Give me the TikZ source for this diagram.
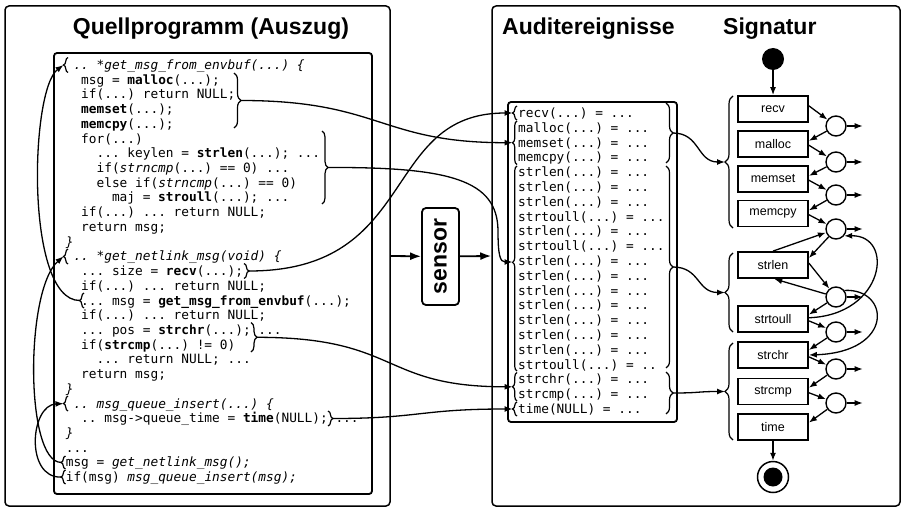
\documentclass[tikz,border=0pt]{standalone}
\usepackage{fontspec}
\setmainfont{Liberation Sans}
\setmonofont{DejaVu Sans Mono}
\usetikzlibrary{decorations.pathreplacing,arrows.meta}
\newcommand\cln[4]{\node[code] (#1) at (#2,{69.5+(#3-1)*14.72}) {#4};}
\newcommand\aln[3]{\node[code] (#1) at (518,{117.5+(#2-1)*14.8}) {#3};}
\begin{document}
\begin{tikzpicture}[x=1pt,y=-1pt,
  panel/.style={draw, line width=1.5pt, rounded corners=4pt, inner sep=0pt},
  innerbox/.style={draw, line width=1.8pt, rounded corners=3pt, inner sep=0pt},
  code/.style={anchor=base west, inner sep=0pt, font=\fontsize{12.8}{15}\ttfamily},
  title/.style={inner sep=0pt, font=\fontsize{23}{27}\bfseries},
  sigbox/.style={draw, line width=1.8pt, minimum width=70pt, minimum height=26pt, inner sep=0pt, font=\fontsize{12.5}{15}\selectfont},
  trans/.style={draw, circle, line width=1.4pt, minimum size=20pt, inner sep=0pt},
  conn/.style={line width=1.3pt, -{Latex[length=8pt,width=6pt]}},
  bigarrow/.style={line width=1.8pt, -{Latex[length=11pt,width=8pt]}},
  brc/.style={decorate, decoration={brace, amplitude=#1}, line width=1.2pt},
]
\useasboundingbox (0,0) rectangle (904,511);

% panels
\node[panel, minimum width=385pt, minimum height=500pt] (lp) at (197.5,256) {};
\node[panel, minimum width=408pt, minimum height=500pt] (rp) at (696,256) {};
\node[title, anchor=base] (t1) at (211,35) {Quellprogramm (Auszug)};
\node[title, anchor=base west] (t2) at (502,35) {Auditereignisse};
\node[title, anchor=base west] (t3) at (723,35) {Signatur};

\node[innerbox, minimum width=318pt, minimum height=441pt] (cb) at (213,273.5) {};
\node[innerbox, minimum width=169pt, minimum height=320pt] (ab) at (592.5,262) {};

% sensor
\node[draw, line width=1.8pt, rounded corners=4pt, rotate=90, minimum width=97pt, minimum height=37pt, inner sep=0pt, font=\fontsize{23}{27}\bfseries] (sensor) at (440.5,256.5) {sensor};
\draw[bigarrow] (lp.east) -- (sensor);
\draw[bigarrow] (sensor) -- (rp.west);

% code lines
\cln{l1}{73.3}{1}{\textit{.. *get\_msg\_from\_envbuf(...) \{}}
\cln{l2}{81}{2}{msg = \textbf{malloc}(...);}
\cln{l3}{81}{3}{if(...) return NULL;}
\cln{l4}{81}{4}{\textbf{memset}(...);}
\cln{l5}{81}{5}{\textbf{memcpy}(...);}
\cln{l6}{81}{6}{for(...)}
\cln{l7}{96.4}{7}{... keylen = \textbf{strlen}(...); ...}
\cln{l8}{96.4}{8}{if(\textit{strncmp}(...) == 0) ...}
\cln{l9}{96.4}{9}{else if(\textit{strncmp}(...) == 0)}
\cln{l10}{111.8}{10}{maj = \textbf{stroull}(...); ...}
\cln{l11}{81}{11}{if(...) ... return NULL;}
\cln{l12}{81}{12}{return msg;}
\cln{l13}{65.6}{13}{\textit{\}}}
\cln{l14}{73.3}{14}{\textit{.. *get\_netlink\_msg(void) \{}}
\cln{l15}{81}{15}{... size = \textbf{recv}(...);}
\cln{l16}{81}{16}{if(...) ... return NULL;}
\cln{l17}{81}{17}{... msg = \textbf{get\_msg\_from\_envbuf}(...);}
\cln{l18}{81}{18}{if(...) ... return NULL;}
\cln{l19}{81}{19}{... pos = \textbf{strchr}(...); ...}
\cln{l20}{81}{20}{if(\textbf{strcmp}(...) != 0)}
\cln{l21}{96.4}{21}{... return NULL; ...}
\cln{l22}{81}{22}{return msg;}
\cln{l23}{65.6}{23}{\textit{\}}}
\cln{l24}{73.3}{24}{\textit{.. msg\_queue\_insert(...) \{}}
\cln{l25}{81}{25}{.. msg->queue\_time = \textbf{time}(NULL); ...}
\cln{l26}{65.6}{26}{\textit{\}}}
\cln{l27}{65.6}{27}{...}
\cln{l28}{65.6}{28}{msg = \textit{get\_netlink\_msg();}}
\cln{l29}{65.6}{29}{if(msg) \textit{msg\_queue\_insert(msg);}}

% code braces (closing)
\draw[brc=7pt] (234,73) -- (234,128);
\coordinate (tB1) at (241,100.5);
\draw[brc=6pt] (322,131) -- (322,204);
\coordinate (tB2) at (328,167.5);
\draw[brc=5pt] (244,263.5) -- (244,278.5);
\coordinate (tB3) at (249,271);
\draw[brc=6pt] (251,322.5) -- (251,352);
\coordinate (tB4) at (257,337.3);
\draw[brc=5pt] (328,411) -- (328,426);
\coordinate (tB5) at (333,418.5);
% code braces (opening)
\draw[brc=4.5pt] (68,72.5) -- (68,57.5);
\coordinate (tO1) at (63.5,65);
\draw[brc=4.5pt] (68,264) -- (68,249);
\coordinate (tO14) at (63.5,256.4);
\draw[brc=4.5pt] (84,308) -- (84,293);
\coordinate (tO17) at (79.5,300.5);
\draw[brc=4.5pt] (68,411) -- (68,396);
\coordinate (tO24) at (63.5,403.6);
\draw[brc=4.5pt] (65.5,469) -- (65.5,456);
\coordinate (tO28) at (61,462.4);
\draw[brc=4.5pt] (65.5,484) -- (65.5,470);
\coordinate (tO29) at (61,477.1);

% audit lines
\aln{a1}{1}{recv(...) = ...}
\aln{a2}{2}{malloc(...) = ...}
\aln{a3}{3}{memset(...) = ...}
\aln{a4}{4}{memcpy(...) = ...}
\aln{a5}{5}{strlen(...) = ...}
\aln{a6}{6}{strlen(...) = ...}
\aln{a7}{7}{strlen(...) = ...}
\aln{a8}{8}{strtoull(...) = ...}
\aln{a9}{9}{strlen(...) = ...}
\aln{a10}{10}{strtoull(...) = ...}
\aln{a11}{11}{strlen(...) = ...}
\aln{a12}{12}{strlen(...) = ...}
\aln{a13}{13}{strlen(...) = ...}
\aln{a14}{14}{strlen(...) = ...}
\aln{a15}{15}{strlen(...) = ...}
\aln{a16}{16}{strlen(...) = ...}
\aln{a17}{17}{strlen(...) = ...}
\aln{a18}{18}{strtoull(...) = ..}
\aln{a19}{19}{strchr(...) = ...}
\aln{a20}{20}{strcmp(...) = ...}
\aln{a21}{21}{time(NULL) = ...}

% audit braces (opening)
\draw[brc=4.5pt] (517,120) -- (517,106);
\coordinate (tA1) at (512.5,113);
\draw[brc=4.5pt] (517,164.5) -- (517,121);
\coordinate (tA2) at (512.5,142.7);
\draw[decorate, decoration={brace, amplitude=4.5pt, aspect=0.53}, line width=1.2pt] (517,371) -- (517,166);
\coordinate (tA5) at (512.5,262);
\draw[brc=4.5pt] (517,401) -- (517,372.5);
\coordinate (tA19) at (512.5,386.8);
\draw[brc=4.5pt] (517,416) -- (517,402);
\coordinate (tA21) at (512.5,409);
% audit braces (closing)
\draw[brc=7pt] (666,103) -- (666,163);
\coordinate (tR1) at (673,133);
\draw[brc=7pt] (666,166) -- (666,368);
\coordinate (tR2) at (673,267);
\draw[brc=7pt] (666,372) -- (666,414);
\coordinate (tR3) at (673,393);

% code -> audit connectors
\draw[conn] (tB1) .. controls (380,100.5) and (380,142.7) .. (tA2);
\draw[conn] (tB2) .. controls (450,167) and (497,180) .. (498,230) .. controls (498,255) and (500,262) .. (tA5);
\draw[conn] (tB3) .. controls (420,271) and (380,113) .. (tA1);
\draw[conn] (tB4) .. controls (400,337.3) and (380,386.8) .. (tA19);
\draw[conn] (tB5) .. controls (420,418.5) and (420,409) .. (tA21);

% call arrows
\draw[conn] (tO17) .. controls (25,300) and (30,90) .. (tO1);
\draw[conn] (tO28) .. controls (25,462) and (25,290) .. (tO14);
\draw[conn] (tO29) .. controls (25,478) and (30,405) .. (tO24);

% signature
\node[circle, fill, minimum size=22pt, inner sep=0pt] (start) at (773,59) {};
\node[sigbox] (recv) at (773,109) {recv};
\node[sigbox] (malloc) at (773,144) {malloc};
\node[sigbox] (memset) at (773,179) {memset};
\node[sigbox] (memcpy) at (773,213.5) {memcpy};
\node[sigbox] (strlen) at (773,265) {strlen};
\node[sigbox] (strtoull) at (773,319) {strtoull};
\node[sigbox] (strchr) at (773,355) {strchr};
\node[sigbox] (strcmp) at (773,391.5) {strcmp};
\node[sigbox] (time) at (773,427) {time};
\node[circle, draw, line width=1.5pt, minimum size=31pt, inner sep=0pt] (end) at (773,477) {};
\node[circle, fill, minimum size=19pt, inner sep=0pt] (endin) at (773,477) {};

\node[trans] (c1) at (836,126) {};
\node[trans] (c2) at (836,162) {};
\node[trans] (c3) at (836,195) {};
\node[trans] (c4) at (836,229) {};
\node[trans] (c5) at (836,297) {};
\node[trans] (c6) at (836,332) {};
\node[trans] (c7) at (836,369) {};
\node[trans] (c8) at (836,403) {};

\draw[conn] (start) -- (recv);
\draw[conn] (time) -- (end);

\draw[conn] (recv.5) -- (c1);
\draw[conn] (c1) -- (malloc.5);
\draw[conn] (malloc.-2) -- (c2);
\draw[conn] (c2) -- (memset.5);
\draw[conn] (memset.-2) -- (c3);
\draw[conn] (c3) -- (memcpy.5);
\draw[conn] (memcpy.-2) -- (c4);
\draw[conn] (c4) -- (strlen.11);
\draw[conn] (strlen.north) -- (c4);
\draw[conn] (strlen.3) -- (c5);
\draw[conn] (c5) -- (strlen.-85);
\draw[conn] (c5) -- (strtoull.7);
\draw[conn] (strtoull.-3) -- (c6);
\draw[conn] (c6) -- (strchr.8);
\draw[conn] (strchr.-3) -- (c7);
\draw[conn] (c7) -- (strcmp.6);
\draw[conn] (strcmp.-2) -- (c8);
\draw[conn] (c8) -- (time.7);
\draw[conn] (strtoull.2) .. controls (885,315) and (895,235) .. (c4.-40);
\draw[conn] (c5.38) .. controls (890,288) and (895,352) .. (strchr.east);
\foreach \c in {c1,c2,c3,c4,c5,c6,c7,c8} \draw[conn] (\c.east) -- ++(16,0);

% signature braces
\draw[brc=8pt] (733,228) -- (733,96);
\coordinate (tS1) at (725,162);
\draw[brc=8pt] (733,332) -- (733,253);
\coordinate (tS2) at (725,292.5);
\draw[brc=8pt] (733,440) -- (733,343);
\coordinate (tS3) at (725,391.5);

\draw[conn] (tR1) .. controls (700,133) and (697,162) .. (tS1);
\draw[conn] (tR2) .. controls (700,267) and (697,292.5) .. (tS2);
\draw[conn] (tR3) .. controls (700,393) and (697,391.5) .. (tS3);
\end{tikzpicture}
\end{document}
